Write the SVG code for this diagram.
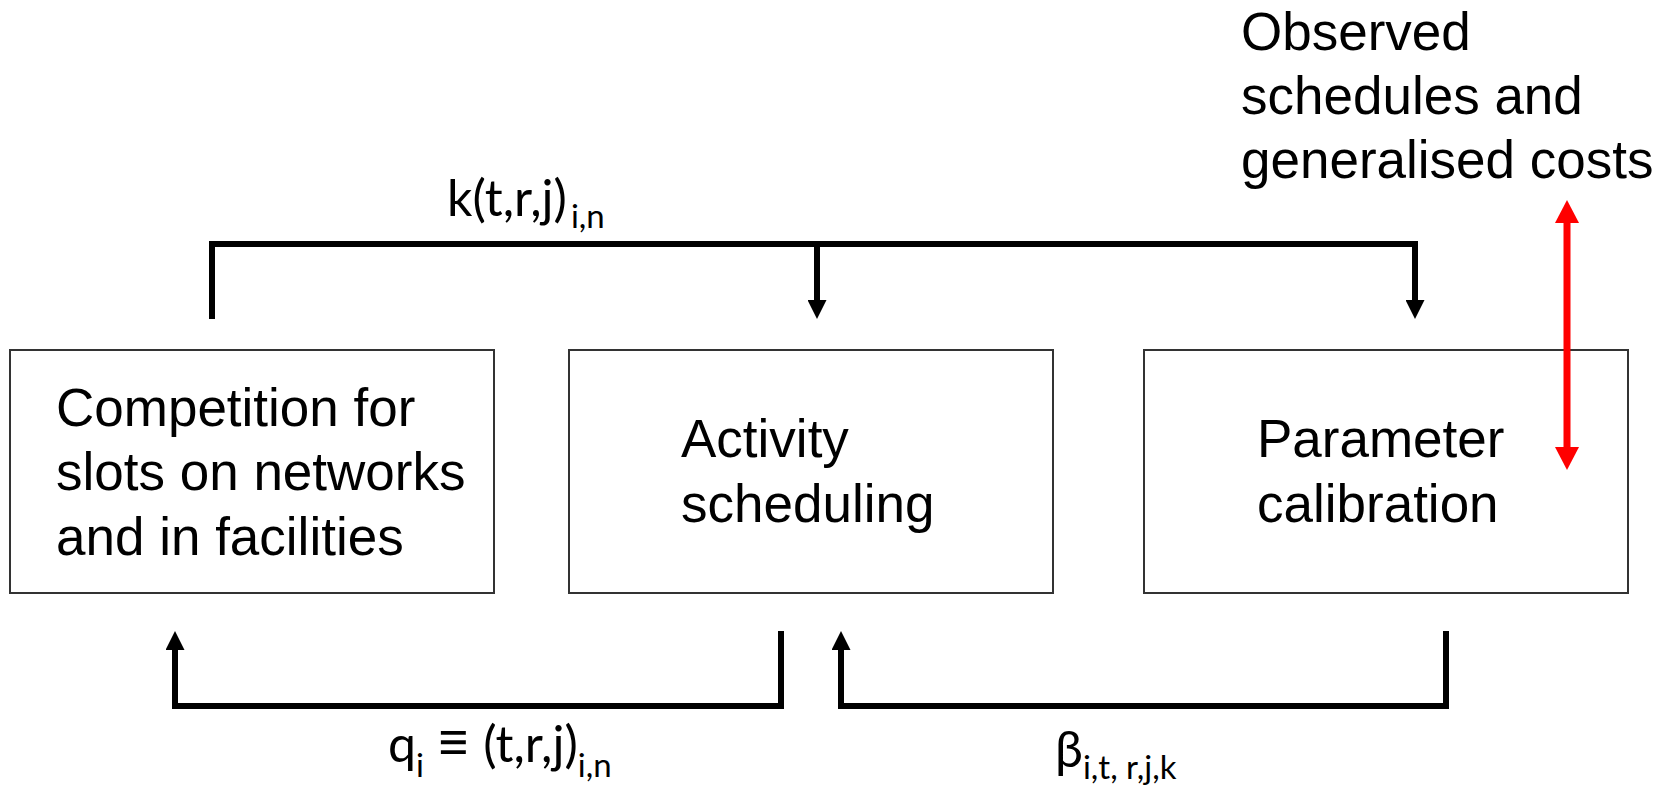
<svg xmlns="http://www.w3.org/2000/svg" width="1671" height="786" viewBox="0 0 1671 786">
  <style>
    .box { fill: #ffffff; stroke: #333333; stroke-width: 2; }
    .txt { font-family: "Liberation Sans", Arial, sans-serif; font-size: 53px; fill: #000000; }
    .lbl { font-family: Lato, "Open Sans", sans-serif; font-size: 50px; fill: #000000; }
    .sub { font-size: 33px; }
    .conn { fill: none; stroke: #000000; stroke-width: 6; stroke-linejoin: miter; }
    .red { fill: none; stroke: #ff0000; stroke-width: 7; }
  </style>
  <defs>
    <marker id="ah" markerUnits="userSpaceOnUse" viewBox="0 0 19 19" markerWidth="19" markerHeight="19" refX="0" refY="9.5" orient="auto">
      <path d="M0,0 L19,9.5 L0,19 Z" fill="#000000"/>
    </marker>
    <marker id="ahr" markerUnits="userSpaceOnUse" viewBox="0 0 23 24" markerWidth="23" markerHeight="24" refX="0" refY="12" orient="auto-start-reverse">
      <path d="M0,0 L23,12 L0,24 Z" fill="#ff0000"/>
    </marker>
  </defs>
  <rect width="1671" height="786" fill="#ffffff"/>

  <g id="node-competition">
    <rect class="box" x="10" y="350" width="484" height="243"/>
    <text class="txt" x="56" y="426">Competition for</text>
    <text class="txt" x="56" y="490">slots on networks</text>
    <text class="txt" x="56" y="555">and in facilities</text>
  </g>
  <g id="node-activity">
    <rect class="box" x="569" y="350" width="484" height="243"/>
    <text class="txt" x="681" y="457">Activity</text>
    <text class="txt" x="681" y="522">scheduling</text>
  </g>
  <g id="node-parameter">
    <rect class="box" x="1144" y="350" width="484" height="243"/>
    <text class="txt" x="1257" y="457">Parameter</text>
    <text class="txt" x="1257" y="522">calibration</text>
  </g>
  <g id="node-observed">
    <text class="txt" x="1241" y="50">Observed</text>
    <text class="txt" x="1241" y="114">schedules and</text>
    <text class="txt" x="1241" y="178">generalised costs</text>
  </g>

  <g id="connectors">
    <path class="conn" d="M212,319 V244 H1415 V300" marker-end="url(#ah)"/>
    <path class="conn" d="M817,244 V300" marker-end="url(#ah)"/>
    <path class="conn" d="M781,631 V706 H175 V650" marker-end="url(#ah)"/>
    <path class="conn" d="M1446,631 V706 H841 V650" marker-end="url(#ah)"/>
    <path class="red" d="M1567,223 V447" marker-start="url(#ahr)" marker-end="url(#ahr)"/>
    <text class="lbl" x="447" y="216">k(t,r,j)<tspan class="sub" dx="4" dy="12">i,n</tspan></text>
    <text class="lbl" x="388" y="762">q<tspan class="sub" dy="15">i</tspan><tspan dy="-15"> </tspan><tspan font-size="58">≡</tspan><tspan> (t,r,j)</tspan><tspan class="sub" dy="15">i,n</tspan></text>
    <text class="lbl" x="1055" y="767">β<tspan class="sub" dy="12">i,t, r,j,k</tspan></text>
  </g>
</svg>
